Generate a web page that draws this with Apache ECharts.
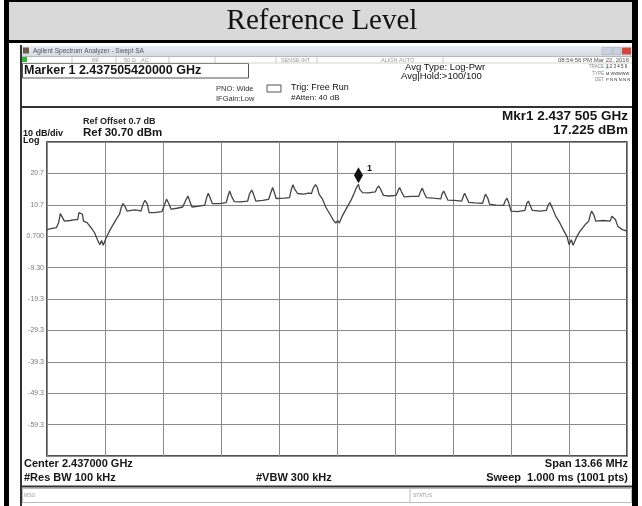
<!DOCTYPE html>
<html>
<head>
<meta charset="utf-8">
<script src="https://cdn.jsdelivr.net/npm/echarts@6/dist/echarts.min.js"></script>
<style>
  html, body { margin: 0; padding: 0; background: #fff; }
  #main { width: 642px; height: 506px; }
</style>
</head>
<body>
<div id="main"></div>
<script>
// trace: sweep point number (0..1000) and level in dBm
var traceIdx = [0, 7, 16, 20, 23, 26, 30, 40, 49, 53, 55, 58, 61, 63, 69, 76, 82, 87, 91, 94, 97, 102, 109, 119, 125, 128, 131, 134, 138, 145,
    152, 157, 162, 166, 169, 173, 176, 185, 198, 203, 206, 210, 214, 224, 234, 239, 243, 246, 250, 260, 272, 275, 278, 281, 285, 297,
    309, 312, 315, 318, 323, 333, 346, 349, 353, 356, 360, 372, 382, 386, 389, 392, 395, 409, 418, 421, 424, 427, 432, 442, 451, 456,
    459, 463, 466, 469, 475, 481, 488, 494, 498, 501, 504, 509, 517, 524, 529, 533, 537, 539, 544, 554, 566, 569, 572, 575, 580, 590,
    602, 605, 608, 611, 616, 629, 641, 644, 647, 650, 654, 666, 679, 681, 684, 687, 691, 702, 715, 718, 720, 723, 727, 738, 751, 754,
    756, 760, 763, 774, 787, 790, 793, 796, 800, 811, 824, 827, 830, 833, 837, 850, 861, 864, 867, 871, 877, 884, 890, 897, 900, 904,
    907, 913, 919, 928, 934, 937, 939, 943, 946, 959, 971, 974, 977, 980, 984, 992, 1000];
var traceDbm = [2.8, 3.1, 3.4, 5.0, 7.9, 7.7, 5.5, 5.7, 6.0, 6.0, 8.2, 8.7, 7.7, 5.5, 5.0, 3.4, 1.8, -0.4, -2.0, -0.7, -2.2, 0.2, 2.8, 6.0, 7.7, 9.8, 11.1, 10.3, 8.7, 8.9,
    9.1, 8.9, 8.7, 11.1, 12.1, 10.9, 8.2, 8.2, 8.5, 10.9, 12.5, 11.1, 9.3, 9.6, 10.0, 12.1, 13.5, 11.9, 10.0, 10.2, 10.6, 12.8, 14.4, 13.0, 11.1, 11.1,
    11.4, 13.5, 15.1, 13.5, 11.7, 11.6, 11.9, 14.1, 15.4, 14.1, 11.9, 12.1, 12.4, 14.6, 16.2, 14.6, 12.7, 12.8, 13.0, 15.4, 17.1, 15.7, 14.3, 14.1, 14.4, 14.3,
    16.0, 17.1, 16.2, 14.1, 12.5, 9.8, 7.7, 5.7, 4.9, 5.7, 4.9, 7.1, 9.8, 12.1, 14.1, 16.0, 17.225, 15.7, 14.6, 14.5, 14.8, 16.0, 16.7, 15.7, 13.7, 13.5,
    13.7, 15.1, 16.2, 14.9, 13.2, 13.4, 13.4, 14.9, 16.0, 14.6, 13.0, 12.8, 12.6, 14.1, 15.1, 13.9, 12.2, 12.1, 11.9, 13.5, 14.4, 13.2, 11.5, 11.3, 11.2, 13.0,
    14.1, 12.8, 10.9, 10.6, 10.5, 11.9, 12.8, 11.4, 8.7, 8.5, 8.9, 11.1, 11.9, 10.5, 8.9, 8.7, 8.9, 10.6, 11.4, 9.8, 7.1, 5.0, 2.8, 0.4, -2.0, -0.4,
    -2.2, 0.4, 2.3, 4.4, 5.5, 7.7, 8.7, 7.4, 5.5, 5.7, 5.5, 7.1, 7.6, 6.0, 3.9, 2.8, 2.3];

// y grid labels from bottom (-69.3) to top (30.7), 10 dB/div
var yTickLabels = ['', '-59.3', '-49.3', '-39.3', '-29.3', '-19.3', '-9.30', '0.700', '10.7', '20.7', ''];
var refTop = 30.7, refBottom = -69.3;
var markerIdx = 537, markerDbm = 17.225;

var SANS = '"Liberation Sans", Arial, sans-serif';

function txt(x, y, s, size, o) {
    o = o || {};
    var a = o.align || 'left';
    return {
        type: 'text', z: 10, silent: true,
        style: {
            x: x, y: y, text: s, fill: o.color || '#151515',
            font: (o.bold ? 'bold ' : '') + size + 'px ' + (o.family || SANS),
            align: a, textAlign: a, verticalAlign: 'middle', textVerticalAlign: 'middle'
        }
    };
}
function box(x, y, w, h, fill, stroke, lw) {
    return {
        type: 'rect', z: 1, silent: true,
        shape: { x: x, y: y, width: w, height: h },
        style: { fill: fill || 'none', stroke: stroke || null, lineWidth: lw || 0 }
    };
}
function seg(x1, y1, x2, y2, color, w) {
    return {
        type: 'line', z: 5, silent: true,
        shape: { x1: x1, y1: y1, x2: x2, y2: y2 },
        style: { stroke: color, lineWidth: w }
    };
}

var trace = traceIdx.map(function (p, i) { return [p, traceDbm[i]]; });

var graphics = [
    // table cell + header
    box(9, 2, 623, 38, '#d9d9d9'),
    box(4, 0, 634, 2, '#000'),
    box(4, 0, 5, 506, '#000'),
    box(632, 0, 6, 506, '#000'),
    box(4, 40, 634, 3, '#000'),
    txt(322, 21, 'Reference Level', 29, { align: 'center', family: '"Liberation Serif", "Times New Roman", serif', color: '#111' }),

    // analyzer window frame
    box(20, 45, 2, 461, '#333'),
    box(22, 46, 610, 10, { type: 'linear', x: 0, y: 0, x2: 0, y2: 1, colorStops: [{ offset: 0, color: '#e8edf3' }, { offset: 1, color: '#d3dbe5' }] }),
    box(23, 47.5, 6, 6, '#6b5a4a'),
    txt(33, 51, 'Agilent Spectrum Analyzer - Swept SA', 6.5, { color: '#4d5563' }),
    box(602, 47.5, 10, 7, '#c9d2de', '#9aa6b5', 0.5),
    box(613, 47.5, 8, 7, '#c9d2de', '#9aa6b5', 0.5),
    box(622, 47.5, 9, 7, '#d4473a'),
    seg(22, 56.5, 632, 56.5, '#b8b8b8', 1),
    box(22, 57, 5, 5, '#2fb52f'),
    txt(92, 60, 'RF', 5.5, { color: '#9a9a9a' }),
    txt(124, 60, '50 \u03A9', 5.5, { color: '#9a9a9a' }),
    txt(141, 60, 'AC', 5.5, { color: '#9a9a9a' }),
    txt(281, 60, 'SENSE:INT', 5.5, { color: '#9a9a9a' }),
    txt(381, 60, 'ALIGN AUTO', 5.5, { color: '#9a9a9a' }),
    txt(629, 60, '08:54:56 PM Mar 22, 2016', 6, { color: '#555', align: 'right' }),
    seg(72, 57, 72, 63, '#c8c8c8', 1),
    seg(116, 57, 116, 63, '#c8c8c8', 1),
    seg(169, 57, 169, 63, '#c8c8c8', 1),
    seg(215, 57, 215, 63, '#c8c8c8', 1),
    seg(276, 57, 276, 63, '#c8c8c8', 1),
    seg(317, 57, 317, 63, '#c8c8c8', 1),
    seg(443, 57, 443, 63, '#c8c8c8', 1),
    seg(22, 63, 632, 63, '#c8c8c8', 0.8),

    // settings block
    box(22.5, 63.5, 226, 14.5, '#fff', '#555', 1),
    txt(24, 70.5, 'Marker 1 2.437505420000 GHz', 12.5, { bold: true }),
    txt(216, 89, 'PNO: Wide', 7.5, { color: '#333' }),
    txt(216, 99, 'IFGain:Low', 7.5, { color: '#333' }),
    box(267, 85, 14, 7, 'none', '#555', 1),
    txt(291, 88, 'Trig: Free Run', 9, { color: '#111' }),
    txt(291, 98, '#Atten: 40 dB', 8, { color: '#222' }),
    txt(405, 67, 'Avg Type: Log-Pwr', 9.5, { color: '#111' }),
    txt(401, 76, 'Avg|Hold:>100/100', 9.5, { color: '#111' }),
    txt(604, 67, 'TRACE', 4.5, { color: '#888', align: 'right' }),
    txt(604, 73.5, 'TYPE', 4.5, { color: '#888', align: 'right' }),
    txt(604, 80, 'DET', 4.5, { color: '#888', align: 'right' }),
    box(605.5, 64.5, 4, 5, '#d8f0d8'),
    txt(606, 67, '1 2 3 4 5 6', 4.5, { color: '#333' }),
    txt(606, 73.5, 'M WWWWW', 4, { color: '#333' }),
    txt(606, 80, 'P N N N N N', 4.3, { color: '#333' }),

    // graph frame
    seg(21, 107, 632, 107, '#333', 2),
    txt(83, 122, 'Ref Offset 0.7 dB', 9, { bold: true, color: '#222' }),
    txt(83, 133, 'Ref 30.70 dBm', 11.5, { bold: true }),
    txt(23, 134, '10 dB/div', 9, { bold: true, color: '#111' }),
    txt(23, 141, 'Log', 9, { bold: true }),
    txt(628, 116, 'Mkr1 2.437 505 GHz', 13.5, { bold: true, align: 'right' }),
    txt(628, 130, '17.225 dBm', 13.5, { bold: true, align: 'right' }),

    // bottom annotations
    txt(24, 464, 'Center 2.437000 GHz', 11, { bold: true }),
    txt(24, 478, '#Res BW 100 kHz', 11, { bold: true }),
    txt(256, 478, '#VBW 300 kHz', 11, { bold: true }),
    txt(628, 464, 'Span 13.66 MHz', 11, { bold: true, align: 'right' }),
    txt(628, 478, 'Sweep  1.000 ms (1001 pts)', 11, { bold: true, align: 'right' }),
    seg(21, 486.5, 632, 486.5, '#333', 2),
    box(22.5, 488.5, 609, 14, 'none', '#bbb', 1),
    seg(410, 489, 410, 502, '#bbb', 1),
    txt(24, 495.5, 'MSG', 5, { color: '#999' }),
    txt(413, 495.5, 'STATUS', 5, { color: '#999' })
];

var myChart = echarts.init(document.getElementById('main'));
var option = {
    backgroundColor: '#fff',
    animation: false,
    grid: {
        left: 47, top: 142, width: 580, height: 314,
        show: true, borderColor: '#1a1a1a', borderWidth: 1.5, backgroundColor: 'transparent'
    },
    xAxis: {
        type: 'value', min: 0, max: 1000, interval: 100,
        axisLabel: { show: false }, axisTick: { show: false }, axisLine: { show: false },
        splitLine: { lineStyle: { color: '#8a8a8a', width: 1 } }
    },
    yAxis: [{
        type: 'value', min: refBottom, max: refTop, show: false
    }, {
        type: 'value', min: 0, max: 100, interval: 10, position: 'left',
        axisLine: { show: false }, axisTick: { show: false },
        axisLabel: {
            margin: 3, fontSize: 7, color: '#7a7a7a', fontFamily: SANS,
            formatter: function (v) { return yTickLabels[Math.round(v / 10)] || ''; }
        },
        splitLine: { lineStyle: { color: '#8a8a8a', width: 1 } }
    }],
    series: [{
        type: 'line',
        yAxisIndex: 0,
        data: trace,
        showSymbol: false,
        lineStyle: { color: '#444', width: 1.3 },
        markPoint: {
            data: [{
                coord: [markerIdx, markerDbm],
                symbol: 'diamond', symbolSize: [9, 16], symbolOffset: [0, -9],
                itemStyle: { color: '#111' },
                label: { show: true, formatter: '1', position: 'right', offset: [-1, -7], fontSize: 9, fontWeight: 'bold', color: '#111' }
            }]
        }
    }],
    graphic: { elements: graphics }
};
myChart.setOption(option);
</script>
</body>
</html>
